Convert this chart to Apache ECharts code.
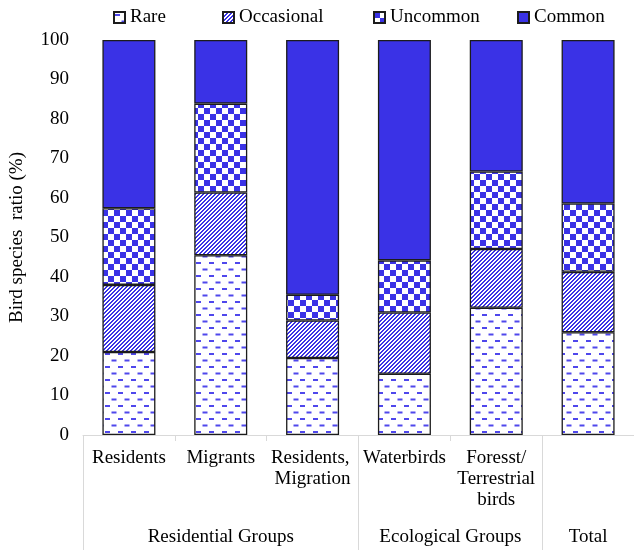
<!DOCTYPE html>
<html>
<head>
<meta charset="utf-8">
<script src="https://cdn.jsdelivr.net/npm/echarts@6/dist/echarts.min.js"></script>
<style>
  html, body { margin: 0; padding: 0; background: #fff; }
  #chart { width: 634px; height: 550px; }
</style>
</head>
<body>
<div id="chart"></div>
<script>
// Share of bird species by occurrence class (%), per group
const categories = ['Residents', 'Migrants', 'Residents, \nMigration', 'Waterbirds', 'Foresst/\nTerrestrial\nbirds', 'Total'];
const rare       = [21.0, 45.5, 19.5, 15.5, 32.2, 26.0];
const occasional = [17.0, 15.9,  9.5, 15.5, 14.9, 15.3];
const uncommon   = [19.4, 22.5,  6.5, 13.2, 19.6, 17.3];
const common     = [42.6, 16.1, 64.5, 55.8, 33.3, 41.4];

// Category groups along the bottom: label, first index, end index (exclusive)
const groupNames  = ['Residential Groups', 'Ecological Groups', 'Total'];
const groupStarts = [0, 3, 5];
const groupEnds   = [3, 5, 6];

const yTicks = [0, 10, 20, 30, 40, 50, 60, 70, 80, 90, 100];

const BLUE = '#3a32e6';
const FONT = '"Liberation Serif", "Times New Roman", serif';

function makePattern(w, h, draw) {
  const c = document.createElement('canvas');
  c.width = w; c.height = h;
  const g = c.getContext('2d');
  g.fillStyle = '#fff';
  g.fillRect(0, 0, w, h);
  draw(g);
  return { image: c, repeat: 'repeat' };
}

// short staggered dashes
const dashFill = makePattern(13, 13, g => {
  g.fillStyle = '#4f47ec';
  g.fillRect(1, 2, 5, 2);
  g.fillRect(7.5, 8.5, 5, 2);
});
// upward diagonal stripes
const diagFill = makePattern(8, 8, g => {
  g.fillStyle = BLUE;
  for (let y = 0; y < 8; y++) {
    for (let x = 0; x < 8; x++) {
      if (((x + y) % 4) < 2) g.fillRect(x, y, 1, 1);
    }
  }
});
// checkerboard
const checkFill = makePattern(12, 12, g => {
  g.fillStyle = BLUE;
  g.fillRect(0, 0, 6, 6);
  g.fillRect(6, 6, 6, 6);
});

const chart = echarts.init(document.getElementById('chart'), null, { renderer: 'canvas' });

const seriesDefs = [
  { name: 'Rare', data: rare, fill: dashFill },
  { name: 'Occasional', data: occasional, fill: diagFill },
  { name: 'Uncommon', data: uncommon, fill: checkFill },
  { name: 'Common', data: common, fill: BLUE }
];

const legendLefts = [113, 222, 373, 517];

// boundaries and centres for the group axis
const groupTickValues = groupStarts.concat([groupEnds[groupEnds.length - 1]]);
const groupLabelValues = groupStarts.map((s, i) => (s + groupEnds[i]) / 2);

// a category that forms a group on its own is named only on the group row
function categoryLabel(value, index) {
  const g = groupStarts.indexOf(index);
  if (g >= 0 && groupEnds[g] - groupStarts[g] === 1 && groupNames[g] === value) return '';
  return value;
}

chart.setOption({
  animation: false,
  backgroundColor: '#fff',
  textStyle: { fontFamily: FONT },
  legend: seriesDefs.map((s, i) => ({
    data: [s.name],
    left: legendLefts[i],
    top: 8,
    icon: 'rect',
    itemWidth: 11,
    itemHeight: 11,
    itemGap: 4,
    padding: 0,
    textStyle: { fontFamily: FONT, fontSize: 19, color: '#000', padding: [2, 0, 0, 0] }
  })),
  grid: { left: 82, top: 40, width: 554, height: 395, containLabel: false },
  xAxis: [
    {
      type: 'category',
      data: categories,
      boundaryGap: true,
      axisLine: { show: true, lineStyle: { color: '#d9d9d9', width: 1 } },
      axisTick: { show: true, interval: 0, length: 6, lineStyle: { color: '#d9d9d9' } },
      axisLabel: {
        interval: 0,
        margin: 13,
        fontFamily: FONT,
        fontSize: 19,
        lineHeight: 21,
        color: '#000',
        align: 'center',
        formatter: categoryLabel
      }
    },
    {
      type: 'value',
      min: 0,
      max: categories.length,
      position: 'bottom',
      axisLine: { show: false },
      splitLine: { show: false },
      axisTick: {
        show: true,
        customValues: groupTickValues,
        length: 115,
        lineStyle: { color: '#d9d9d9' }
      },
      axisLabel: {
        customValues: groupLabelValues,
        formatter: v => {
          const i = groupLabelValues.indexOf(v);
          return i >= 0 ? groupNames[i] : '';
        },
        margin: 93,
        fontFamily: FONT,
        fontSize: 19,
        color: '#000'
      }
    }
  ],
  yAxis: {
    type: 'value',
    min: yTicks[0],
    max: yTicks[yTicks.length - 1],
    interval: 10,
    name: 'Bird species  ratio (%)',
    nameLocation: 'middle',
    nameGap: 56,
    nameRotate: 90,
    nameTextStyle: { fontFamily: FONT, fontSize: 19, color: '#000' },
    axisLine: { show: false },
    axisTick: { show: false },
    splitLine: { show: false },
    axisLabel: { margin: 14, fontFamily: FONT, fontSize: 19, color: '#000' }
  },
  series: seriesDefs.map(s => ({
    name: s.name,
    type: 'bar',
    stack: 'ratio',
    barWidth: 53,
    data: s.data,
    xAxisIndex: 0,
    itemStyle: { color: s.fill, borderColor: '#1c1c1c', borderWidth: 1.3 },
    emphasis: { disabled: true }
  }))
});
</script>
</body>
</html>
